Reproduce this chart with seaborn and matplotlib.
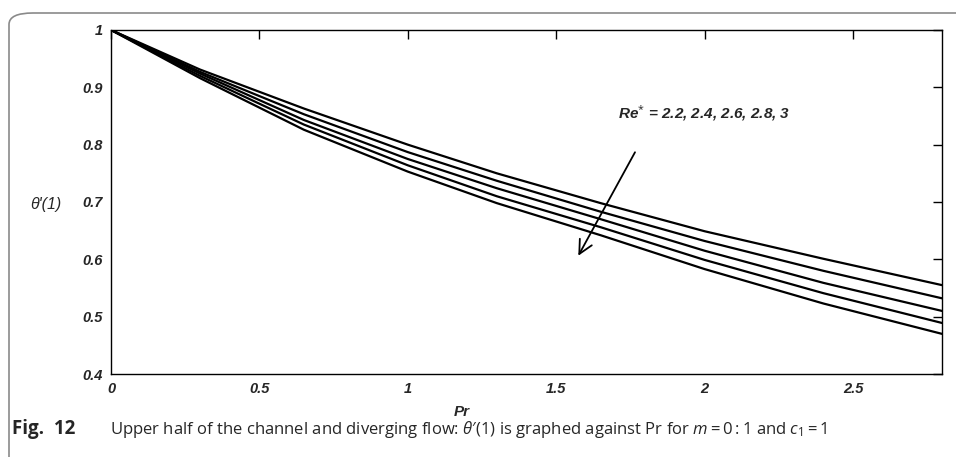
import matplotlib
matplotlib.use("Agg")
import matplotlib.pyplot as plt
import pandas as pd
import seaborn as sns
from matplotlib.patches import FancyBboxPatch

sns.set_style("white")
plt.rcParams["mathtext.fontset"] = "custom"
plt.rcParams["mathtext.rm"] = "Open Sans"
plt.rcParams["mathtext.it"] = "Open Sans:italic"

# values
pr = [0.0, 0.3, 0.65, 1.0, 1.3, 1.65, 2.0, 2.4, 2.8]
re_values = ["2.2", "2.4", "2.6", "2.8", "3"]
theta_re22 = [1.0, 0.931, 0.863, 0.800, 0.750, 0.698, 0.649, 0.601, 0.555]
theta_re24 = [1.0, 0.927, 0.853, 0.787, 0.737, 0.683, 0.632, 0.580, 0.532]
theta_re26 = [1.0, 0.924, 0.843, 0.775, 0.724, 0.670, 0.615, 0.559, 0.510]
theta_re28 = [1.0, 0.920, 0.835, 0.764, 0.710, 0.656, 0.599, 0.541, 0.489]
theta_re30 = [1.0, 0.916, 0.826, 0.753, 0.698, 0.642, 0.583, 0.523, 0.470]

series = [theta_re22, theta_re24, theta_re26, theta_re28, theta_re30]
df = pd.concat(
    [pd.DataFrame({"Pr": pr, "theta": s, "Re": r}) for r, s in zip(re_values, series)],
    ignore_index=True,
)

fig = plt.figure(figsize=(9.56, 4.57), dpi=100)
ax = fig.add_axes([0.1161, 0.1816, 0.8693, 0.7528])

sns.lineplot(
    data=df, x="Pr", y="theta", hue="Re", palette=["black"] * 5,
    linewidth=1.6, legend=False, ax=ax,
)

ax.set_xlim(0, 2.8)
ax.set_ylim(0.4, 1.0)
ax.set_xticks([0, 0.5, 1, 1.5, 2, 2.5])
ax.set_xticklabels(["0", "0.5", "1", "1.5", "2", "2.5"])
ax.set_yticks([0.4, 0.5, 0.6, 0.7, 0.8, 0.9, 1.0])
ax.set_yticklabels(["0.4", "0.5", "0.6", "0.7", "0.8", "0.9", "1"])
ax.tick_params(direction="in", length=6.5, width=1, color="black",
               top=True, right=True, pad=6)
for lab in ax.get_xticklabels() + ax.get_yticklabels():
    lab.set_fontfamily("Liberation Sans")
    lab.set_fontweight("bold")
    lab.set_fontstyle("italic")
    lab.set_fontsize(10.5)
for sp in ax.spines.values():
    sp.set_color("black")
    sp.set_linewidth(1.0)

ax.set_xlabel("")
ax.set_ylabel("")
fig.text(462 / 956, 1 - 412 / 457, "Pr", fontfamily="Liberation Sans",
         fontweight="bold", fontstyle="italic", fontsize=11, ha="center", va="center")
fig.text(46 / 956, 1 - 205 / 457, "θ'(1)", fontfamily="Liberation Sans",
         fontstyle="italic", fontsize=11.5, ha="center", va="center")

ax.annotate("", xy=(1.57, 0.602), xytext=(1.77, 0.791),
            arrowprops=dict(arrowstyle="->,head_length=0.7,head_width=0.35",
                            color="black", lw=1.3, mutation_scale=14))
ax.text(2.0, 0.855, "Re$^{*}$ = 2.2, 2.4, 2.6, 2.8, 3", fontfamily="Liberation Sans",
        fontweight="bold", fontstyle="italic", fontsize=11, ha="center", va="center")

# rounded frame around the figure
frame = FancyBboxPatch((9 / 956, -20 / 457), 980 / 956, 464 / 457,
                       boxstyle="round,pad=0,rounding_size=0.025",
                       transform=fig.transFigure, fill=False,
                       edgecolor="#8a8a8a", linewidth=1.2, clip_on=False)
fig.patches.append(frame)

fig.text(12 / 956, 1 - 429 / 457, "Fig.  12", fontfamily="Open Sans",
         fontweight="bold", fontsize=13.5, ha="left", va="center")
fig.text(110 / 956, 1 - 429 / 457,
         "Upper half of the channel and diverging flow: $\\theta$\u2032(1) is graphed against Pr for $m = 0{:}1$ and $c_1 = 1$",
         family=["Open Sans", "DejaVu Sans"], fontsize=12, ha="left", va="center")

fig.savefig("out.png", dpi=100)
